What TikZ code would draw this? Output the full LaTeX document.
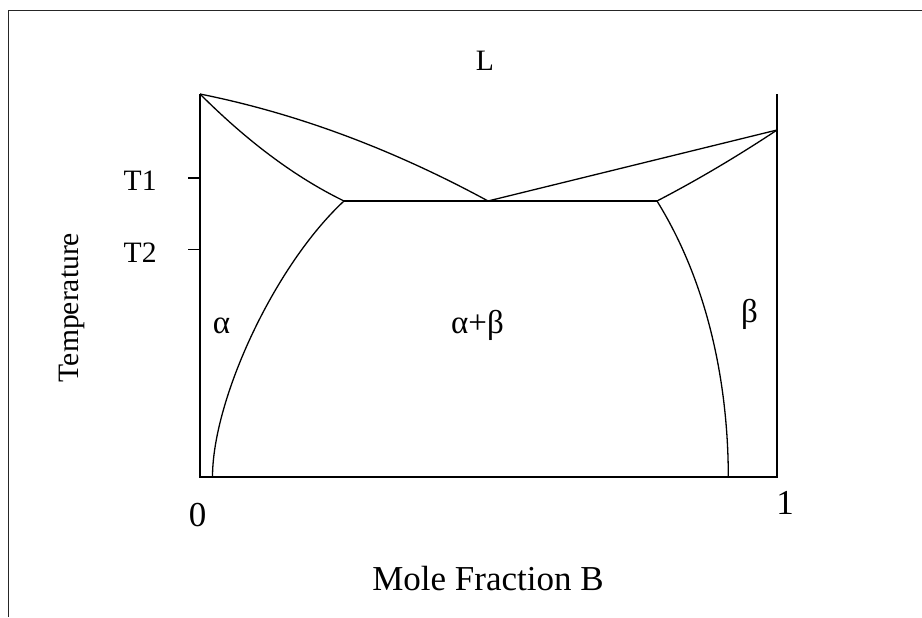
\documentclass[tikz,border=0pt]{standalone}
\usepackage{fontspec}
\setmainfont{Liberation Serif}
\usetikzlibrary{positioning}
\tikzset{
  frame/.style={line width=0.5pt, black!85},
  axis/.style={line width=0.8pt},
  phase/.style={line width=0.65pt, line join=round},
  lbl/.style={font=\fontsize{14.8}{17}\selectfont, inner sep=0pt},
  big lbl/.style={font=\fontsize{17.5}{20}\selectfont, inner sep=0pt},
  region/.style={font=\fontsize{16.5}{19}\selectfont, inner sep=0pt}
}

\begin{document}
\begin{tikzpicture}[x=0.5pt, y=-0.5pt]
\useasboundingbox (0,0) rectangle (922,617);

% --- outer frame (left and top only) ---
\draw[frame] (8,617) -- (8,10) -- (922,10);

% --- key points ---
\coordinate (meltA) at (200,94);
\coordinate (meltB) at (777,130);
\coordinate (topB) at (777,94);
\coordinate (origin) at (200,477);
\coordinate (corner) at (777,477);
\coordinate (eutL) at (344,201);
\coordinate (eut) at (488,201);
\coordinate (eutR) at (657,201);
\coordinate (footA) at (212.5,477);
\coordinate (footB) at (728.3,477);

% --- axes ---
\draw[axis] (meltA) -- (origin) -- (corner) -- (topB);
\coordinate (t1) at (200,178);
\coordinate (t2) at (200,249.5);
\foreach \t in {t1,t2} {
    \draw[axis] (\t) -- ++(-12,0);
}

% --- liquidus ---
\draw[phase] plot[domain=0:288, samples=40] ({200+\x},{94+0.2*\x+0.000596*\x*\x});
\draw[phase] (eut) -- (meltB);

% --- solidus ---
\draw[phase] plot[domain=0:144, samples=30] ({200+\x},{94+\x-0.00178*\x*\x});
\draw[phase] plot[domain=0:120, samples=30] ({657+\x},{201-0.52*\x-0.000597*\x*\x});

% --- eutectic line ---
\draw[phase] (eutL) -- (eutR);

% --- solvus ---
\draw[phase] (eutL) .. controls (274,266) and (212.5,400) .. (footA);
\draw[phase] (eutR) .. controls (714,293) and (728.3,400) .. (footB);

% --- labels ---
\node[lbl, anchor=base] (liq) at (485,70) {L};
\node[lbl, anchor=base east] (T1) at (157,190) {T1};
\node[lbl, anchor=base east] (T2) at (157,262) {T2};
\node[lbl, rotate=90] (temp) at (71.5,307.5) {Temperature};
\node[big lbl, anchor=base] (zero) at (197.5,526.5) {0};
\node[big lbl, anchor=base] (one) at (785,514) {1};
\node[big lbl, anchor=base] (xlab) at (488,590) {Mole Fraction B};

\node[region, anchor=base] (alpha) at (221.5,333) {α};
\node[region, anchor=base] (mix) at (477.5,333) {α+β};
\node[region, anchor=base] (beta) at (749.5,322) {β};

\end{tikzpicture}
\end{document}
